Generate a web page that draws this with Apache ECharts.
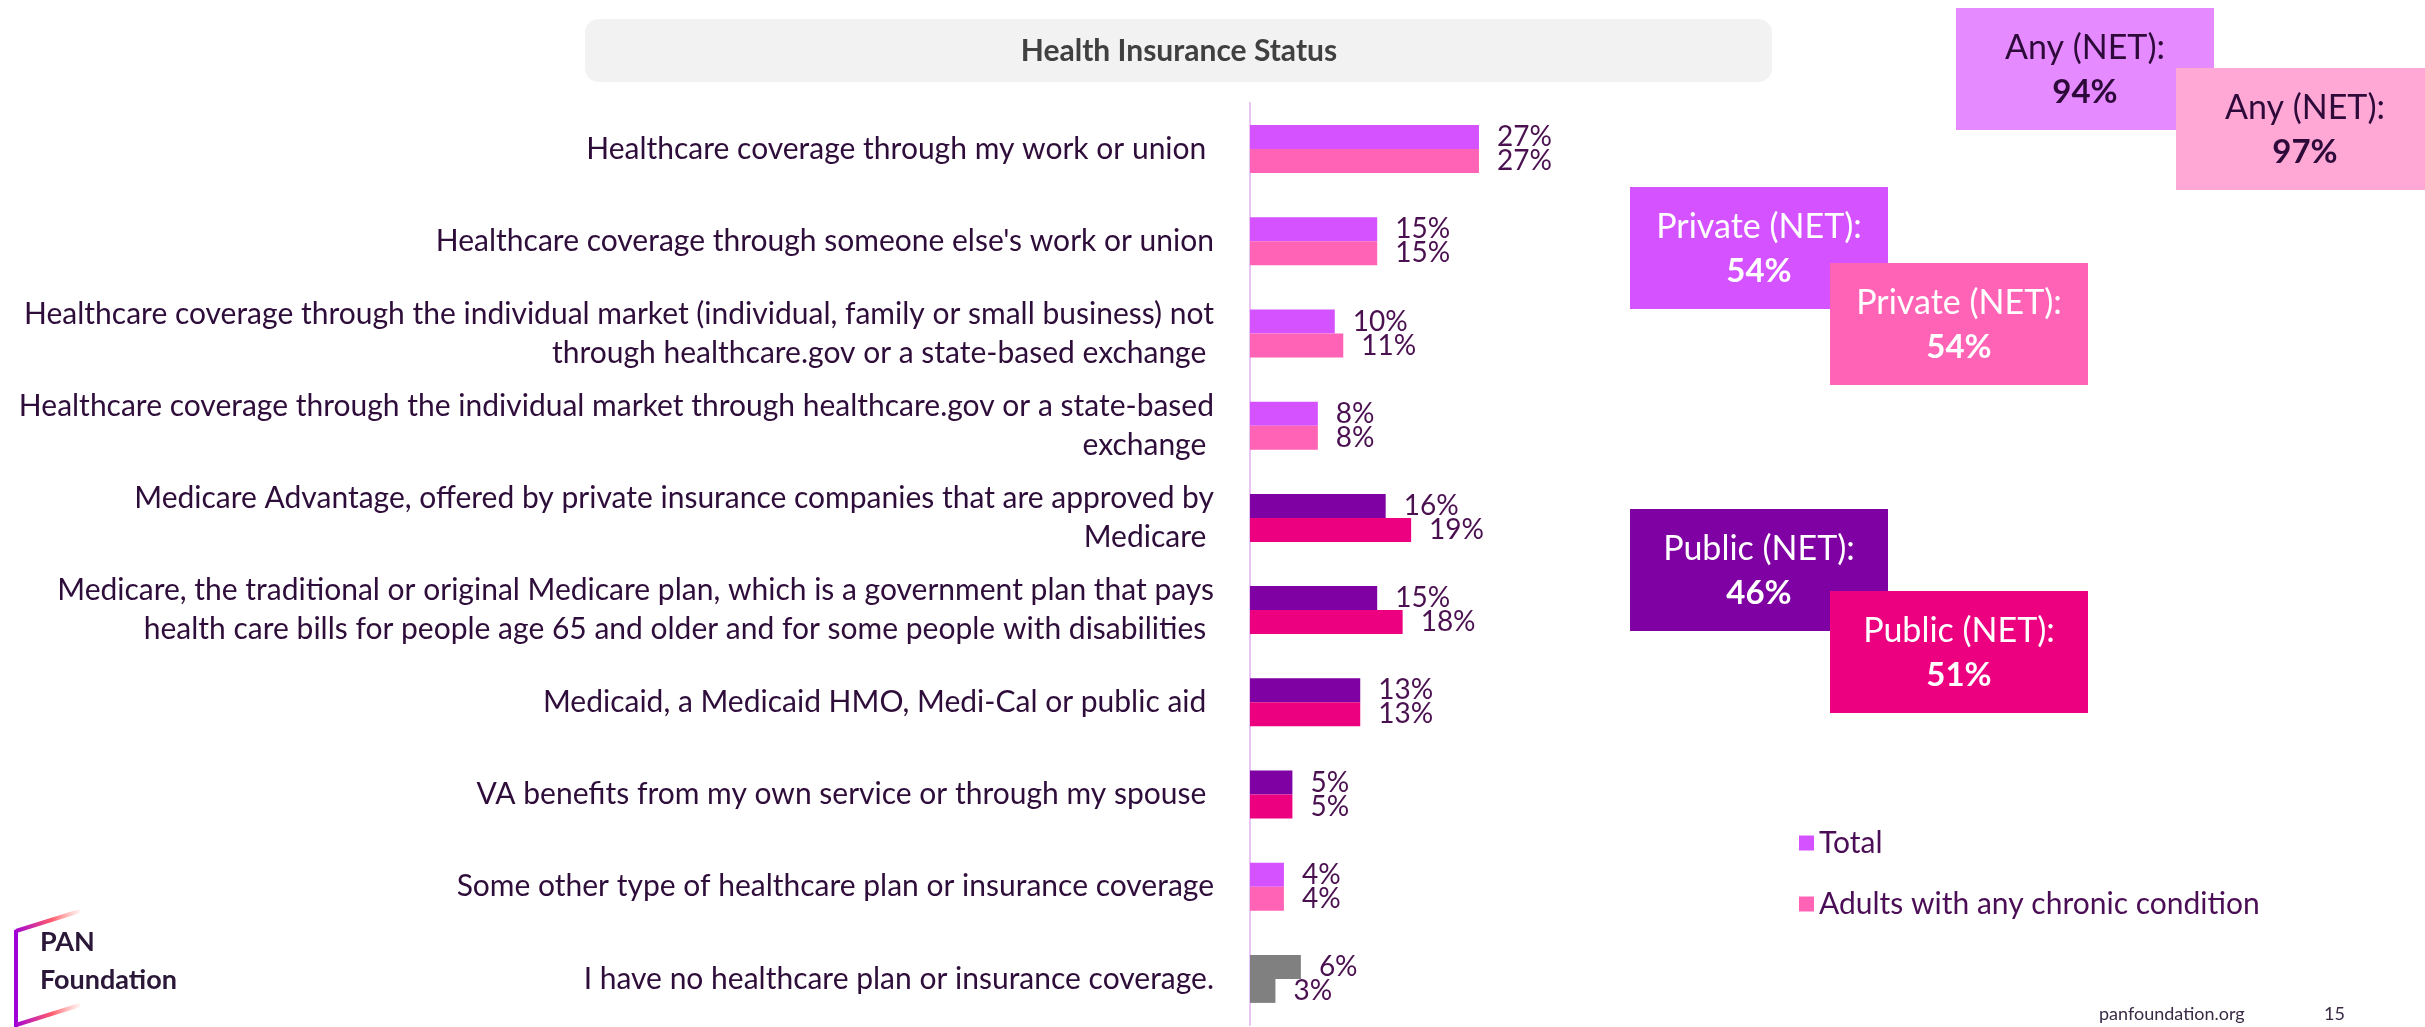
<!DOCTYPE html>
<html>
<head>
<meta charset="utf-8">
<script src="https://cdn.jsdelivr.net/npm/echarts@6/dist/echarts.min.js"></script>
<style>
html,body{margin:0;padding:0;background:#fff;}
#chart{width:2425px;height:1027px;}
</style>
</head>
<body>
<div id="chart"></div>
<script>
// ---- data ----
const categories = [
  "Healthcare coverage through my work or union ",
  "Healthcare coverage through someone else's work or union",
  "Healthcare coverage through the individual market (individual, family or small business) not\nthrough healthcare.gov or a state-based exchange ",
  "Healthcare coverage through the individual market through healthcare.gov or a state-based\nexchange ",
  "Medicare Advantage, offered by private insurance companies that are approved by\nMedicare ",
  "Medicare, the traditional or original Medicare plan, which is a government plan that pays\nhealth care bills for people age 65 and older and for some people with disabilities ",
  "Medicaid, a Medicaid HMO, Medi-Cal or public aid ",
  "VA benefits from my own service or through my spouse ",
  "Some other type of healthcare plan or insurance coverage",
  "I have no healthcare plan or insurance coverage."
];
const totalValues   = [27, 15, 10, 8, 16, 15, 13, 5, 4, 6];
const chronicValues = [27, 15, 11, 8, 19, 18, 13, 5, 4, 3];
const groups = ["private","private","private","private","public","public","public","public","private","none"];
const seriesNames = ["Total", "Adults with any chronic condition"];

const netLabels  = ["Any (NET):", "Private (NET):", "Public (NET):"];
const netTotal   = [94, 54, 46];
const netChronic = [97, 54, 51];

// ---- styles ----
const FONT = "Lato";
const colors = {
  total:   {private: "#d452ff", public: "#7f00a3", none: "#808080"},
  chronic: {private: "#ff63b5", public: "#ec007f", none: "#808080"}
};
const labelColor = "#4a1050";

function mkData(vals, key) {
  return vals.map((v, i) => ({value: v, itemStyle: {color: colors[key][groups[i]]}}));
}

// NET boxes layout
const boxW = 258, boxH = 122;
const boxPos = [
  {t: [1956, 8],   c: [2176, 68],  tFill: "#e58bff", cFill: "#ffa8d6", txt: "#2d0a3a"},
  {t: [1630, 187], c: [1830, 263], tFill: "#d452ff", cFill: "#ff63b5", txt: "#ffffff"},
  {t: [1630, 509], c: [1830, 591], tFill: "#7f00a3", cFill: "#ec007f", txt: "#ffffff"}
];
const graphics = [];
// title
graphics.push({type: "rect", left: 585, top: 19, shape: {width: 1187, height: 63, r: 14}, style: {fill: "#f2f2f2"}, z: 0});
graphics.push({type: "text", x: 1179, y: 51, style: {text: "Health Insurance Status", font: "bold 30px " + FONT, fill: "#404040", textAlign: "center", textVerticalAlign: "middle"}});
netLabels.forEach((lab, i) => {
  const p = boxPos[i];
  [[p.t, p.tFill, netTotal[i]], [p.c, p.cFill, netChronic[i]]].forEach(([xy, fill, val]) => {
    graphics.push({type: "group", x: xy[0], y: xy[1], z: 10, children: [
      {type: "rect", shape: {x: 0, y: 0, width: boxW, height: boxH}, style: {fill: fill}},
      {type: "text", x: boxW / 2, y: 40, style: {text: lab, font: "34px " + FONT, fill: p.txt, textAlign: "center", textVerticalAlign: "middle"}},
      {type: "text", x: boxW / 2, y: 84, style: {text: val + "%", font: "bold 33px " + FONT, fill: p.txt, textAlign: "center", textVerticalAlign: "middle"}}
    ]});
  });
});
// logo
const logoGrad = () => new echarts.graphic.LinearGradient(0, 0, 1, 0, [{offset: 0, color: "#a000d8"}, {offset: 0.55, color: "#ff5a6e"}, {offset: 1, color: "rgba(255,140,120,0)"}]);
graphics.push({type: "line", shape: {x1: 16, y1: 930, x2: 16, y2: 1027}, style: {stroke: "#a000d8", lineWidth: 4}});
graphics.push({type: "line", shape: {x1: 16, y1: 931, x2: 80, y2: 911}, style: {stroke: logoGrad(), lineWidth: 4}});
graphics.push({type: "line", shape: {x1: 16, y1: 1025, x2: 80, y2: 1005}, style: {stroke: logoGrad(), lineWidth: 4}});
graphics.push({type: "text", x: 40, y: 942, style: {text: "PAN", font: "bold 27px " + FONT, fill: "#2b1838", textVerticalAlign: "middle"}});
graphics.push({type: "text", x: 40, y: 980, style: {text: "Foundation", font: "bold 27px " + FONT, fill: "#2b1838", textVerticalAlign: "middle"}});
// footer
graphics.push({type: "text", x: 2099, y: 1014, style: {text: "panfoundation.org", font: "18px " + FONT, fill: "#3a2a45", textVerticalAlign: "middle"}});
graphics.push({type: "text", x: 2324, y: 1014, style: {text: "15", font: "18px " + FONT, fill: "#3a2a45", textVerticalAlign: "middle"}});

const chart = echarts.init(document.getElementById("chart"));
chart.setOption({
  animation: false,
  backgroundColor: "#ffffff",
  textStyle: {fontFamily: FONT},
  grid: {left: 1250, top: 103, width: 848, height: 922},
  xAxis: {type: "value", min: 0, max: 100, show: false},
  yAxis: {
    type: "category", data: categories, inverse: true,
    axisLine: {show: true, lineStyle: {color: "#e8c4f4", width: 2}},
    axisTick: {show: false},
    splitLine: {show: false},
    axisLabel: {margin: 36, fontSize: 30, lineHeight: 39, color: "#2f0d3a", align: "right", fontFamily: FONT}
  },
  legend: {
    orient: "vertical", left: 1794, top: 822,
    itemWidth: 15, itemHeight: 15, itemGap: 29, icon: "rect",
    data: seriesNames,
    textStyle: {fontSize: 30, lineHeight: 32, color: "#4b0e56", fontFamily: FONT}
  },
  series: [
    {
      name: seriesNames[0], type: "bar", data: mkData(totalValues, "total"),
      barWidth: 24, barGap: "0%",
      itemStyle: {color: colors.total.private},
      label: {show: true, position: "right", distance: 18, formatter: "{c}%", fontSize: 28, color: labelColor, fontFamily: FONT}
    },
    {
      name: seriesNames[1], type: "bar", data: mkData(chronicValues, "chronic"),
      barWidth: 24, barGap: "0%",
      itemStyle: {color: colors.chronic.private},
      label: {show: true, position: "right", distance: 18, formatter: "{c}%", fontSize: 28, color: labelColor, fontFamily: FONT}
    }
  ],
  graphic: graphics
});
</script>
</body>
</html>
